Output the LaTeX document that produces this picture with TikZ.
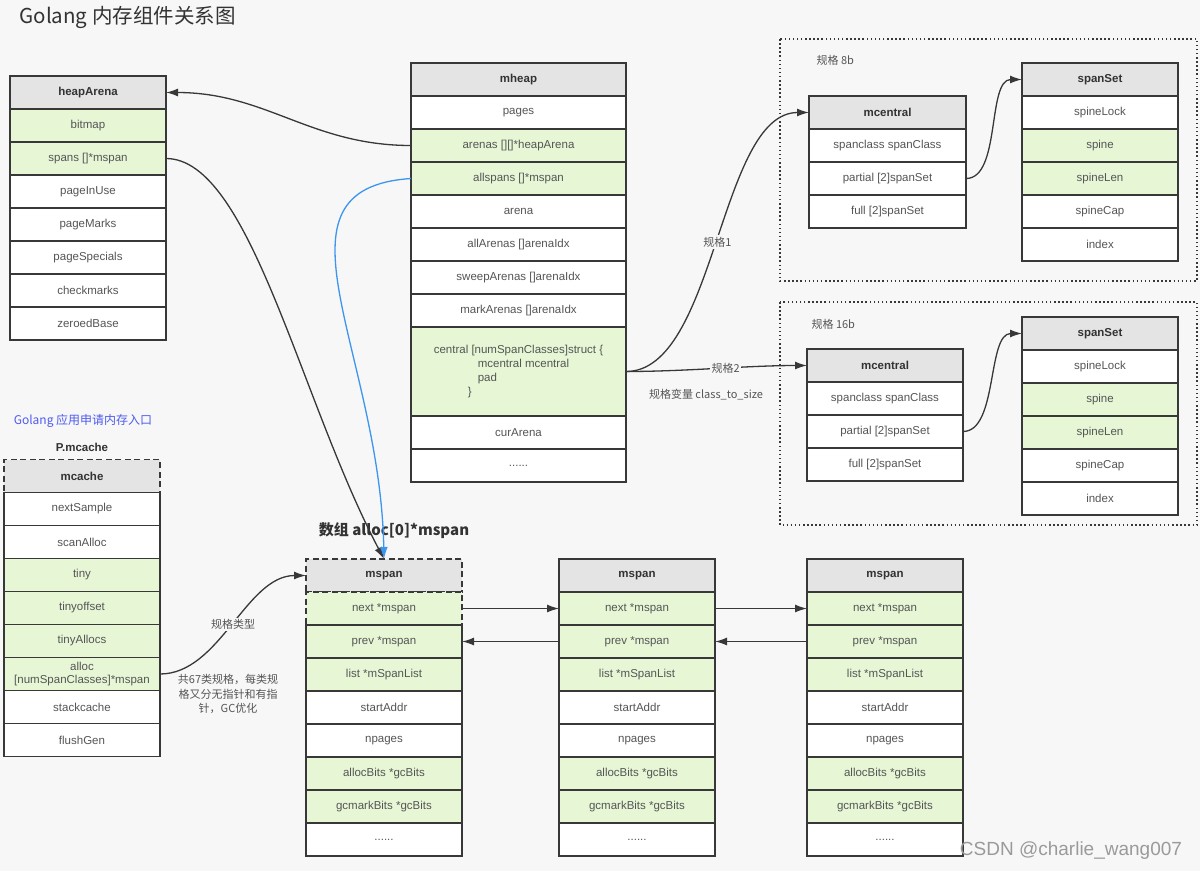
\documentclass[tikz,border=0pt]{standalone}
\usepackage{fontspec}
\setmainfont{Liberation Sans}
\newfontfamily\cjk{Noto Sans CJK SC}
\usetikzlibrary{positioning,arrows.meta}

\definecolor{bgc}{HTML}{F7F7F7}
\definecolor{linec}{HTML}{383838}
\definecolor{hdrc}{HTML}{E4E4E4}
\definecolor{grnc}{HTML}{E7F7D6}
\definecolor{txtc}{HTML}{555555}
\definecolor{txtd}{HTML}{333333}
\definecolor{bluec}{HTML}{3D96EE}
\definecolor{entc}{HTML}{4E5BEF}
\definecolor{wmc}{HTML}{9A9A9A}

\begin{document}
\begin{tikzpicture}[x = 1pt, y = -1pt,
	boxcell/.style = {draw = linec, line width = 1.5pt, inner sep = 0pt, outer sep = 0pt,
		minimum height = 33pt, minimum width = #1, text = txtc, font = \fontsize{11.5}{13.5}\selectfont},
	boxcell/.default = 156pt,
	hdr/.style = {boxcell = #1, fill = hdrc, text = txtd, font = \bfseries\fontsize{11.5}{13.5}\selectfont},
	hdr/.default = 156pt,
	fld/.style = {boxcell = #1, fill = white},
	fld/.default = 156pt,
	fldg/.style = {boxcell = #1, fill = grnc},
	fldg/.default = 156pt,
	dsh/.style = {dash pattern = on 6pt off 3.5pt},
	grp/.style = {draw = linec, line width = 1.5pt, dash pattern = on 1.5pt off 2.6pt},
	arr/.style = {-{Latex[length = 12pt, width = 8pt]}, line width = 1.3pt, color = linec},
	lbl/.style = {fill = bgc, inner sep = 1.5pt, text = txtc, font = \cjk\fontsize{11}{13}\selectfont},
	cn/.style = {text = txtc, font = \cjk\fontsize{11}{13}\selectfont}]
	\path[fill = bgc, use as bounding box] (0,0) rectangle (1200,871);
	\node[anchor = west, text = txtd, font = \cjk\fontsize{20.5}{24}\selectfont] (title) at (16,17) {Golang 内存组件关系图};
	
	% heapArena
	\node[hdr] (ha) at (88,92.5) {heapArena};
	\node[fldg, below = 0pt of ha] (ha1) {bitmap};
	\node[fldg, below = 0pt of ha1] (ha2) {spans []*mspan};
	\node[fld, below = 0pt of ha2] (ha3) {pageInUse};
	\node[fld, below = 0pt of ha3] (ha4) {pageMarks};
	\node[fld, below = 0pt of ha4] (ha5) {pageSpecials};
	\node[fld, below = 0pt of ha5] (ha6) {checkmarks};
	\node[fld, below = 0pt of ha6] (ha7) {zeroedBase};
	
	% mheap
	\node[hdr = 215pt] (mh) at (518.5,79.5) {mheap};
	\node[fld = 215pt, below = 0pt of mh] (mh1) {pages};
	\node[fldg = 215pt, below = 0pt of mh1] (mh2) {arenas [][]*heapArena};
	\node[fldg = 215pt, below = 0pt of mh2] (mh3) {allspans []*mspan};
	\node[fld = 215pt, below = 0pt of mh3] (mh4) {arena};
	\node[fld = 215pt, below = 0pt of mh4] (mh5) {allArenas []arenaIdx};
	\node[fld = 215pt, below = 0pt of mh5] (mh6) {sweepArenas []arenaIdx};
	\node[fld = 215pt, below = 0pt of mh6] (mh7) {markArenas []arenaIdx};
	\node[fldg = 215pt, minimum height = 89pt, align = left, font = \fontsize{11.5}{14}\selectfont, below = 0pt of mh7] (mh8)
		{central [numSpanClasses]struct \{\\\hspace*{44pt}mcentral mcentral\\\hspace*{44pt}pad\\\hspace*{34pt}\}};
	\node[fld = 215pt, below = 0pt of mh8] (mh9) {curArena};
	\node[fld = 215pt, below = 0pt of mh9] (mh10) {......};
	
	% size classes
	\draw[grp] (780,39) rectangle (1197,281);
	\node[cn, anchor = west] (g8) at (813,60) {规格 8b};
	\node[hdr = 157pt] (mc) at (887.5,112.5) {mcentral};
	\node[fld = 157pt, below = 0pt of mc] (mc1) {spanclass spanClass};
	\node[fld = 157pt, below = 0pt of mc1] (mc2) {partial [2]spanSet};
	\node[fld = 157pt, below = 0pt of mc2] (mc3) {full [2]spanSet};
	\node[hdr] (ss) at (1100,79.5) {spanSet};
	\node[fld, below = 0pt of ss] (ss1) {spineLock};
	\node[fldg, below = 0pt of ss1] (ss2) {spine};
	\node[fldg, below = 0pt of ss2] (ss3) {spineLen};
	\node[fld, below = 0pt of ss3] (ss4) {spineCap};
	\node[fld, below = 0pt of ss4] (ss5) {index};
	
	\draw[grp] (780,302) rectangle (1197,525);
	\node[cn, anchor = west] (g16) at (808,324) {规格 16b};
	\node[hdr] (md) at (885,365.5) {mcentral};
	\node[fld, below = 0pt of md] (md1) {spanclass spanClass};
	\node[fld, below = 0pt of md1] (md2) {partial [2]spanSet};
	\node[fld, below = 0pt of md2] (md3) {full [2]spanSet};
	\node[hdr] (st) at (1100,333.5) {spanSet};
	\node[fld, below = 0pt of st] (st1) {spineLock};
	\node[fldg, below = 0pt of st1] (st2) {spine};
	\node[fldg, below = 0pt of st2] (st3) {spineLen};
	\node[fld, below = 0pt of st3] (st4) {spineCap};
	\node[fld, below = 0pt of st4] (st5) {index};
	
	% mcache
	\node[text = entc, font = \cjk\fontsize{12}{14}\selectfont] (entry) at (83,421) {Golang 应用申请内存入口};
	\node[text = txtd, font = \bfseries\fontsize{11.5}{13.5}\selectfont] (pm) at (82,447) {P.mcache};
	\node[hdr, dsh] (mk) at (82,476) {mcache};
	\node[fld, below = 0pt of mk] (mk1) {nextSample};
	\node[fld, below = 0pt of mk1] (mk2) {scanAlloc};
	\node[fldg, below = 0pt of mk2] (mk3) {tiny};
	\node[fldg, below = 0pt of mk3] (mk4) {tinyoffset};
	\node[fldg, below = 0pt of mk4] (mk5) {tinyAllocs};
	\node[fldg, align = center, below = 0pt of mk5] (mk6) {alloc\\{}[numSpanClasses]*mspan};
	\node[fld, below = 0pt of mk6] (mk7) {stackcache};
	\node[fld, below = 0pt of mk7] (mk8) {flushGen};
	
	% mspan list
	\node[text = txtd, font = \cjk\bfseries\fontsize{15}{18}\selectfont] (allocl) at (394,531) {数组 alloc[0]*mspan};
	\node[hdr, dsh] (sa) at (384,575.5) {mspan};
	\node[fldg, dsh, below = 0pt of sa] (sa1) {next *mspan};
	\node[fldg, below = 0pt of sa1] (sa2) {prev *mspan};
	\node[fldg, below = 0pt of sa2] (sa3) {list *mSpanList};
	\node[fld, below = 0pt of sa3] (sa4) {startAddr};
	\node[fld, below = 0pt of sa4] (sa5) {npages};
	\node[fldg, below = 0pt of sa5] (sa6) {allocBits *gcBits};
	\node[fldg, below = 0pt of sa6] (sa7) {gcmarkBits *gcBits};
	\node[fld, below = 0pt of sa7] (sa8) {......};
	
	\node[hdr] (sb) at (637,575.5) {mspan};
	\node[fldg, below = 0pt of sb] (sb1) {next *mspan};
	\node[fldg, below = 0pt of sb1] (sb2) {prev *mspan};
	\node[fldg, below = 0pt of sb2] (sb3) {list *mSpanList};
	\node[fld, below = 0pt of sb3] (sb4) {startAddr};
	\node[fld, below = 0pt of sb4] (sb5) {npages};
	\node[fldg, below = 0pt of sb5] (sb6) {allocBits *gcBits};
	\node[fldg, below = 0pt of sb6] (sb7) {gcmarkBits *gcBits};
	\node[fld, below = 0pt of sb7] (sb8) {......};
	
	\node[hdr] (sc) at (885,575.5) {mspan};
	\node[fldg, below = 0pt of sc] (sc1) {next *mspan};
	\node[fldg, below = 0pt of sc1] (sc2) {prev *mspan};
	\node[fldg, below = 0pt of sc2] (sc3) {list *mSpanList};
	\node[fld, below = 0pt of sc3] (sc4) {startAddr};
	\node[fld, below = 0pt of sc4] (sc5) {npages};
	\node[fldg, below = 0pt of sc5] (sc6) {allocBits *gcBits};
	\node[fldg, below = 0pt of sc6] (sc7) {gcmarkBits *gcBits};
	\node[fld, below = 0pt of sc7] (sc8) {......};
	
	% connectors
	\draw[arr] (mh2.west) .. controls +(-100,0) and +(100,0) .. (ha.east);
	\draw[arr] (ha2.east) .. controls +(84,0) and +(-84,-159) .. (sa.north);
	\draw[arr, color = bluec] (mh3.west) .. controls +(-151,10) and +(-4,-209) .. (sa.north);
	\draw[arr] (mh8.east) .. controls +(90,0) and +(-90,0) .. (mc.west) node[lbl, midway] {规格1};
	\draw[arr] (mh8.east) .. controls +(60,0) and +(-60,0) .. (md.west) node[lbl, pos = 0.55] {规格2};
	\node[cn] (cts) at (706,395) {规格变量 class\_to\_size};
	\draw[arr] (mc2.east) .. controls +(35,0) and +(-35,0) .. (ss.west);
	\draw[arr] (md2.east) .. controls +(35,0) and +(-35,0) .. (st.west);
	\draw[arr] (mk6.east) .. controls +(60,0) and +(-60,0) .. (sa.west) node[lbl, midway] {规格类型};
	\node[cn, align = center, font = \cjk\fontsize{11}{14.5}\selectfont] (note) at (228,694)
		{共67类规格，每类规\\格又分无指针和有指\\针，GC优化};
	\draw[arr] (sa1.east) -- (sb1.west);
	\draw[arr] (sb2.west) -- (sa2.east);
	\draw[arr] (sb1.east) -- (sc1.west);
	\draw[arr] (sc2.west) -- (sb2.east);
	
	\node[text = wmc, font = \fontsize{19}{22}\selectfont] (wm) at (1071,851) {CSDN @charlie\_wang007};
\end{tikzpicture}
\end{document}
